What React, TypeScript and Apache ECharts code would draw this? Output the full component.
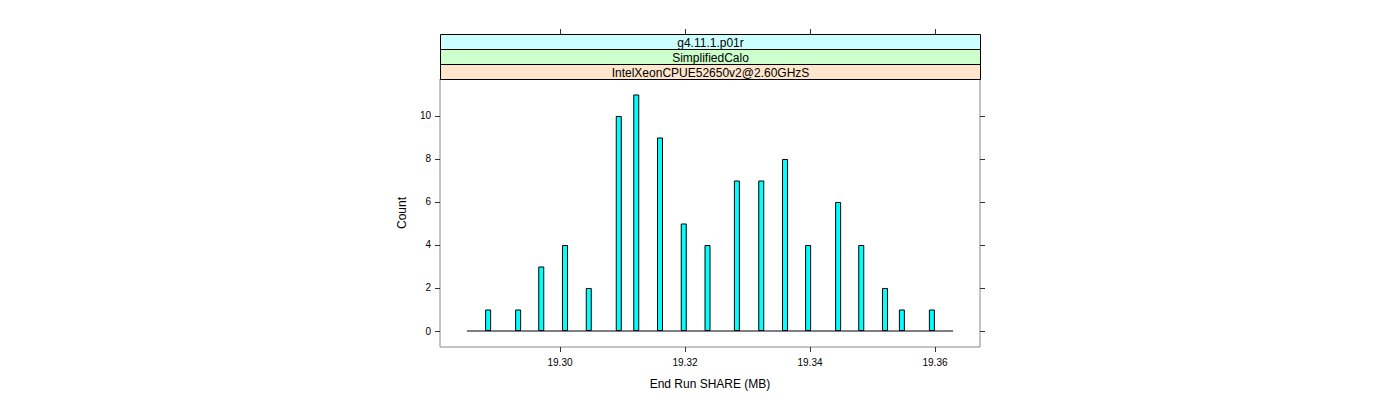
import React, { useEffect, useRef } from "react";
import * as echarts from "echarts";

const shareValues: number[] = [
  19.2885, 19.2933, 19.2970, 19.3008, 19.3046, 19.3094, 19.3122, 19.3160,
  19.3198, 19.3236, 19.3283, 19.3322, 19.3360, 19.3397, 19.3445, 19.3482,
  19.3520, 19.3547, 19.3595,
];
const counts: number[] = [1, 1, 3, 4, 2, 10, 11, 9, 5, 4, 7, 7, 8, 4, 6, 4, 2, 1, 1];
const xTicks: number[] = [19.30, 19.32, 19.34, 19.36];
const yTicks: number[] = [0, 2, 4, 6, 8, 10];
const baselineRange: number[] = [19.2851, 19.3629];
const stripLabels: string[] = ["g4.11.1.p01r", "SimplifiedCalo", "IntelXeonCPUE52650v2@2.60GHzS"];
const stripColors: string[] = ["#ccffff", "#ccffcc", "#ffe5cc"];

const FONT = "'Liberation Sans', Arial, sans-serif";

export default function App() {
  const ref = useRef<HTMLDivElement>(null);
  useEffect(() => {
    if (!ref.current) return;
    const chart = echarts.init(ref.current, undefined, { renderer: "svg" });
    const gridLeft = 440, gridTop = 79, gridW = 540, gridH = 268;
    const stripH = 15;
    const strips: any[] = stripLabels.map((label, i) => ({
      type: "group",
      left: gridLeft,
      top: gridTop - stripH * stripLabels.length + i * stripH,
      children: [
        {
          type: "rect",
          shape: { x: 0, y: 0, width: gridW, height: stripH },
          style: { fill: stripColors[i], stroke: "#000", lineWidth: 1 },
        },
        {
          type: "text",
          x: gridW / 2,
          y: stripH / 2 + 0.5,
          style: {
            text: label,
            fill: "#000",
            font: `12px ${FONT}`,
            align: "center",
            verticalAlign: "middle",
          },
        },
      ],
    }));
    const axisCommon = {
      type: "value",
      axisLine: { show: false, onZero: false },
      splitLine: { show: false },
    };
    const tickStyle = { show: true, inside: false, length: 5, lineStyle: { color: "#333" } };
    chart.setOption({
      animation: false,
      backgroundColor: "#fff",
      grid: {
        left: gridLeft,
        top: gridTop,
        width: gridW,
        height: gridH,
        show: true,
        borderColor: "#888",
        borderWidth: 1,
        backgroundColor: "transparent",
      },
      xAxis: [
        {
          ...axisCommon,
          position: "bottom",
          min: 19.2808,
          max: 19.3672,
          name: "End Run SHARE (MB)",
          nameLocation: "middle",
          nameGap: 31,
          nameTextStyle: { color: "#000", fontSize: 12, fontFamily: FONT },
          axisTick: { ...tickStyle, customValues: xTicks },
          axisLabel: {
            customValues: xTicks,
            color: "#000",
            fontSize: 10,
            fontFamily: FONT,
            margin: 10,
            formatter: (v: number) => v.toFixed(2),
          },
        },
        {
          ...axisCommon,
          position: "top",
          offset: stripH * stripLabels.length,
          min: 19.2808,
          max: 19.3672,
          axisTick: { ...tickStyle, customValues: xTicks },
          axisLabel: { show: false },
        },
      ],
      yAxis: [
        {
          ...axisCommon,
          position: "left",
          min: -0.744,
          max: 11.72,
          name: "Count",
          nameLocation: "middle",
          nameGap: 32,
          nameTextStyle: { color: "#000", fontSize: 12, fontFamily: FONT },
          axisTick: { ...tickStyle, customValues: yTicks },
          axisLabel: { customValues: yTicks, color: "#000", fontSize: 10, fontFamily: FONT, margin: 9 },
        },
        {
          ...axisCommon,
          position: "right",
          min: -0.744,
          max: 11.72,
          axisTick: { ...tickStyle, customValues: yTicks },
          axisLabel: { show: false },
        },
      ],
      series: [
        {
          type: "line",
          xAxisIndex: 0,
          yAxisIndex: 0,
          data: [
            [baselineRange[0], 0],
            [baselineRange[1], 0],
          ],
          symbol: "none",
          lineStyle: { color: "#000", width: 1 },
          silent: true,
        },
        {
          type: "bar",
          xAxisIndex: 0,
          yAxisIndex: 0,
          barWidth: 6,
          data: shareValues.map((x, i) => [x, counts[i]]),
          itemStyle: { color: "#00ffff", borderColor: "#000", borderWidth: 1 },
        },
      ],
      graphic: strips,
    });
    return () => chart.dispose();
  }, []);
  return (
    <div
      ref={ref}
      style={{ position: "fixed", left: 0, top: 0, width: 1400, height: 400 }}
    />
  );
}
